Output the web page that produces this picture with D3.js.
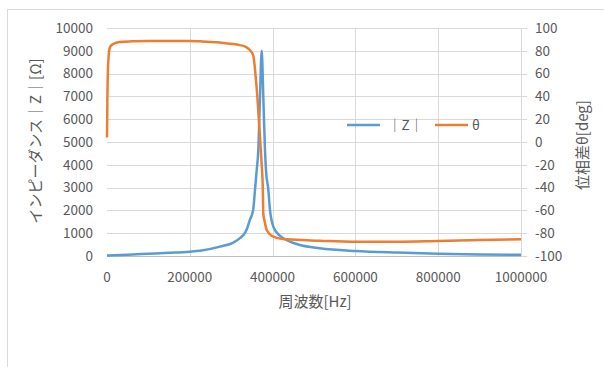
<!DOCTYPE html>
<html><head><meta charset="utf-8">
<script src="https://cdn.jsdelivr.net/npm/d3@7"></script>
<style>
html,body{margin:0;padding:0;background:#fff;}
svg{display:block;}
text{font-family:"Noto Sans CJK JP","Noto Sans",sans-serif;fill:#595959;}
</style></head>
<body>
<script>
// ---- data ----
const zFreq = [0, 50000, 100000, 150000, 200000, 224600, 273000, 304000, 321000, 337000, 345000, 353000, 357500, 361600, 365500, 369500, 373700, 377500, 381600, 384000, 389700, 393700, 401700, 418000, 442000, 466000, 514000, 600000, 700000, 800000, 900000, 1000000];
const zVals = [25, 60, 100, 140, 190, 230, 410, 580, 780, 1140, 1580, 2020, 2900, 3770, 4650, 7000, 9000, 7000, 4650, 3770, 2900, 2020, 1290, 880, 630, 480, 340, 220, 150, 100, 70, 50];
const thFreq = [0, 1000, 3000, 7000, 15000, 30000, 60000, 100000, 200000, 225000, 265000, 290000, 310000, 321000, 335000, 345000, 353000, 360000, 365000, 368500, 371500, 374500, 376000, 377600, 381000, 385700, 401700, 434000, 514000, 600000, 700000, 800000, 900000, 1000000];
const thVals = [4, 40, 70, 83, 86, 87.7, 88.3, 88.6, 88.6, 88.3, 87.5, 86.5, 85.7, 85, 83.5, 80.7, 76.3, 54, 30, 10, -7, -25, -36, -63, -70, -77, -83, -85.4, -86.6, -87.5, -87.5, -86.8, -86, -85.3];
const xTicks = [0, 200000, 400000, 600000, 800000, 1000000];
const yLeftTicks = [0, 1000, 2000, 3000, 4000, 5000, 6000, 7000, 8000, 9000, 10000];
const yRightTicks = [-100, -80, -60, -40, -20, 0, 20, 40, 60, 80, 100];
const seriesNames = ["｜Z｜", "θ"];
const colors = ["#5b9bd5", "#ed7d31"];
const xTitle = "周波数[Hz]";
const yLeftTitle = "インピーダンス｜Z｜[Ω]";
const yRightTitle = "位相差θ[deg]";

const W = 604, H = 367;
const m = {l:107, t:28, r:83, b:111};
const iw = W - m.l - m.r, ih = H - m.t - m.b;

const svg = d3.select("body").append("svg").attr("width", W).attr("height", H);
// chart border
svg.append("path").attr("d", `M7.5,${H} V9.5 H${W}`).attr("fill","none").attr("stroke","#d9d9d9").attr("stroke-width",1);

const g = svg.append("g").attr("transform", `translate(${m.l},${m.t})`);
const x = d3.scaleLinear().domain([0, 1000000]).range([0, iw]);
const yL = d3.scaleLinear().domain([0, 10000]).range([ih, 0]);
const yR = d3.scaleLinear().domain([-100, 100]).range([ih, 0]);

// horizontal gridlines (with right ticks)
g.append("g").selectAll("line").data(yLeftTicks).join("line")
  .attr("x1", 0).attr("x2", iw + 6)
  .attr("y1", d => Math.round(yL(d)) + 0.5).attr("y2", d => Math.round(yL(d)) + 0.5)
  .attr("stroke", "#d9d9d9");
// vertical gridlines
g.append("g").selectAll("line").data(xTicks.slice(1)).join("line")
  .attr("x1", d => Math.round(x(d)) + 0.5).attr("x2", d => Math.round(x(d)) + 0.5)
  .attr("y1", 0).attr("y2", ih)
  .attr("stroke", "#d9d9d9");
// x axis line
g.append("line").attr("x1",0).attr("x2",iw).attr("y1",ih+0.5).attr("y2",ih+0.5).attr("stroke","#bfbfbf");

// tick labels
g.append("g").selectAll("text").data(yLeftTicks).join("text")
  .attr("x", -14).attr("y", d => yL(d)).attr("dy","0.35em")
  .attr("text-anchor","end").attr("font-size", 13.5).text(d => d);
g.append("g").selectAll("text").data(yRightTicks).join("text")
  .attr("x", iw + 14).attr("y", d => yR(d)).attr("dy","0.35em")
  .attr("text-anchor","start").attr("font-size", 13.5).text(d => d);
g.append("g").selectAll("text").data(xTicks).join("text")
  .attr("x", d => x(d)).attr("y", ih + 21).attr("dy","0.35em")
  .attr("text-anchor","middle").attr("font-size", 13.5).text(d => d);

// lines
const zData = zFreq.map((f,i) => [f, zVals[i]]);
const thData = thFreq.map((f,i) => [f, thVals[i]]);
g.append("path").datum(zData).attr("fill","none").attr("stroke",colors[0]).attr("stroke-width",2.5)
  .attr("stroke-linejoin","round")
  .attr("d", d3.line().x(d => x(d[0])).y(d => yL(d[1])).curve(d3.curveMonotoneX));
g.append("path").datum(thData).attr("fill","none").attr("stroke",colors[1]).attr("stroke-width",2.5)
  .attr("stroke-linejoin","round")
  .attr("d", d3.line().x(d => x(d[0])).y(d => yR(d[1])).curve(d3.curveMonotoneX));

// axis titles
svg.append("text").attr("transform","translate(36,141) rotate(-90)")
  .attr("text-anchor","middle").attr("dy","0.35em").attr("font-size", 15).text(yLeftTitle);
svg.append("text").attr("transform","translate(583,145) rotate(-90)")
  .attr("text-anchor","middle").attr("dy","0.35em").attr("font-size", 15).text(yRightTitle);
svg.append("text").attr("x", 315).attr("y", 302).attr("dy","0.35em")
  .attr("text-anchor","middle").attr("font-size", 15).text(xTitle);

// legend
const leg = svg.append("g");
const legItems = [{x:347, tx:388}, {x:435, tx:472}];
legItems.forEach((it, i) => {
  leg.append("line").attr("x1", it.x).attr("x2", it.x + 33).attr("y1", 125).attr("y2", 125)
    .attr("stroke", colors[i]).attr("stroke-width", 2.5);
  leg.append("text").attr("x", it.tx).attr("y", 125).attr("dy","0.35em")
    .attr("font-size", 13.5).text(seriesNames[i]);
});
</script>
</body></html>
